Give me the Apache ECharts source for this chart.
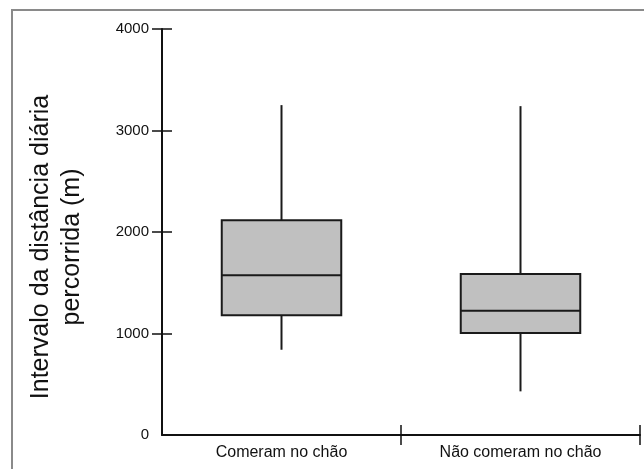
<!DOCTYPE html>
<html><head><meta charset="utf-8">
<script src="https://cdn.jsdelivr.net/npm/echarts@6/dist/echarts.min.js"></script>
<style>html,body{margin:0;padding:0;background:#fff}#c{width:644px;height:469px}</style>
</head><body><div id="c"></div>
<script>
const categories = ['Comeram no chão', 'Não comeram no chão'];
// [min, Q1, median, Q3, max]
const boxValues = [
  [840, 1180, 1575, 2115, 3250],
  [430, 1005, 1225, 1585, 3240]
];
const yTicks = [0, 1000, 2000, 3000, 4000];
const yAxisName = 'Intervalo da distância diária\npercorrida (m)';

const chart = echarts.init(document.getElementById('c'), null, {renderer: 'canvas'});
const data = boxValues.map((v, i) => [i + 0.5].concat(v));
const font = 'Liberation Sans, Arial, sans-serif';
chart.setOption({
  animation: false,
  backgroundColor: '#fff',
  graphic: [{type: 'rect', shape: {x: 12, y: 10, width: 660, height: 480}, style: {fill: 'none', stroke: '#8a8a8a', lineWidth: 2}, z: 100}],
  grid: {left: 162, right: 4, top: 29, bottom: 34},
  xAxis: [{
    type: 'value', min: 0, max: categories.length,
    axisLine: {show: true, lineStyle: {color: '#111', width: 2}},
    axisTick: {show: true, inside: false, length: 10, customValues: [1, 2], lineStyle: {color: '#111', width: 1.5}},
    axisLabel: {customValues: [0.5, 1.5], formatter: v => categories[Math.floor(v)], color: '#111', fontSize: 16, fontFamily: font, margin: 10},
    splitLine: {show: false}
  }, {
    type: 'value', min: 0, max: categories.length, position: 'bottom',
    axisLine: {show: false},
    axisTick: {show: true, inside: true, length: 10, customValues: [1, 2], lineStyle: {color: '#111', width: 1.5}},
    axisLabel: {show: false}, splitLine: {show: false}
  }],
  yAxis: [{
    type: 'value', min: 0, max: 4000, interval: 1000,
    name: yAxisName, nameLocation: 'middle', nameRotate: 90, nameGap: 74,
    nameTextStyle: {fontSize: 25, fontFamily: font, color: '#111', lineHeight: 31, padding: [0, 30, 0, 0]},
    axisLine: {show: true, lineStyle: {color: '#111', width: 2}},
    axisTick: {show: true, length: 10, customValues: yTicks.slice(1), lineStyle: {color: '#111', width: 1.5}},
    axisLabel: {customValues: yTicks, formatter: v => String(v), color: '#111', fontSize: 15, fontFamily: font, margin: 13},
    splitLine: {show: false}
  }, {
    type: 'value', min: 0, max: 4000, interval: 1000, position: 'left',
    axisLine: {show: false},
    axisTick: {show: true, inside: true, length: 10, customValues: yTicks.slice(1), lineStyle: {color: '#111', width: 1.5}},
    axisLabel: {show: false}, splitLine: {show: false}
  }],
  series: [{
    type: 'custom',
    data: data,
    encode: {x: 0, y: [1, 2, 3, 4, 5]},
    renderItem: function (params, api) {
      const x = api.value(0);
      const pMin = api.coord([x, api.value(1)]);
      const pQ1 = api.coord([x, api.value(2)]);
      const pMed = api.coord([x, api.value(3)]);
      const pQ3 = api.coord([x, api.value(4)]);
      const pMax = api.coord([x, api.value(5)]);
      const w = api.size([1, 0])[0] * 0.5;
      const cx = pMed[0];
      const ls = {stroke: '#1a1a1a', lineWidth: 2};
      return {type: 'group', children: [
        {type: 'line', shape: {x1: cx, y1: pMax[1], x2: cx, y2: pQ3[1]}, style: ls},
        {type: 'line', shape: {x1: cx, y1: pQ1[1], x2: cx, y2: pMin[1]}, style: ls},
        {type: 'rect', shape: {x: cx - w / 2, y: pQ3[1], width: w, height: pQ1[1] - pQ3[1]}, style: {fill: '#c0c0c0', stroke: '#1a1a1a', lineWidth: 2}},
        {type: 'line', shape: {x1: cx - w / 2, y1: pMed[1], x2: cx + w / 2, y2: pMed[1]}, style: ls}
      ]};
    }
  }]
});
</script></body></html>
